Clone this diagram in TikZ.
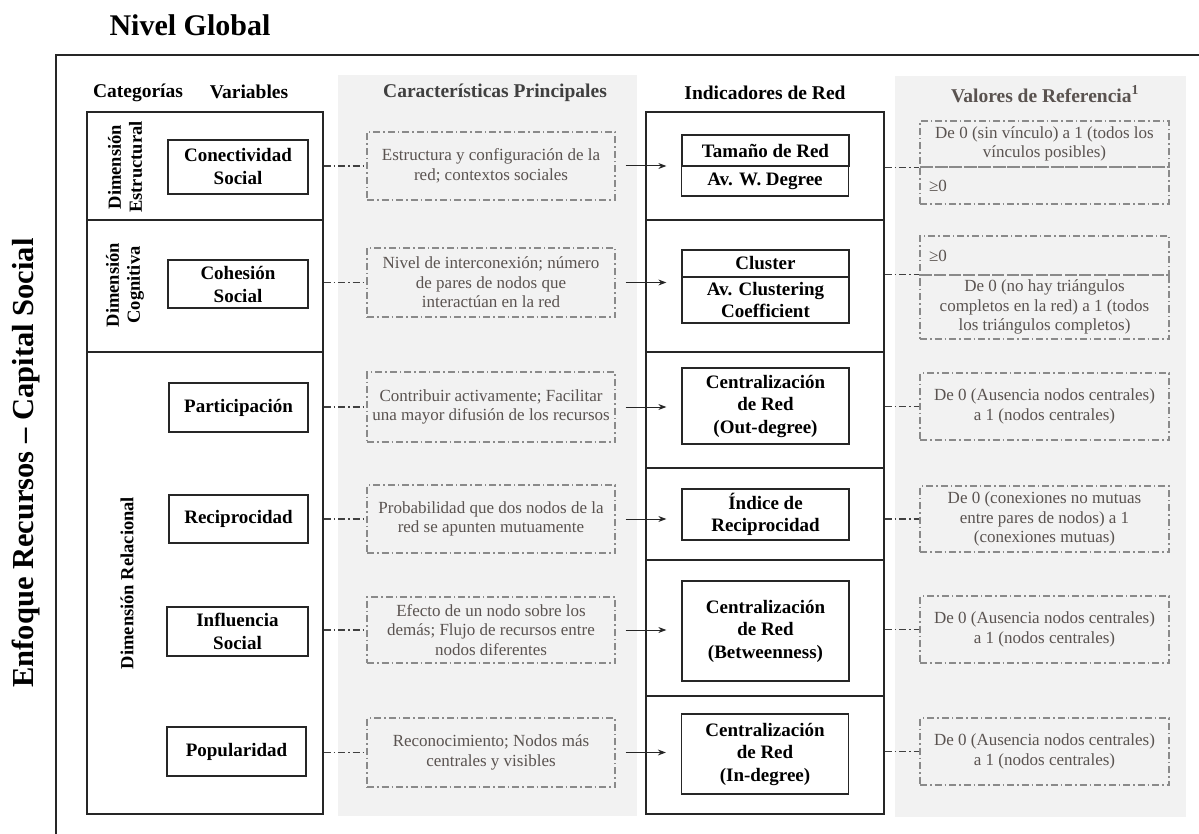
\documentclass[tikz,border=0pt]{standalone}
\usepackage{fontspec}
\setmainfont{Liberation Serif}
\usetikzlibrary{arrows.meta}

\definecolor{band}{HTML}{F2F2F2}
\definecolor{softline}{HTML}{8A8A8A}
\definecolor{softtext}{HTML}{5A5350}
\definecolor{linkcol}{HTML}{404040}

\tikzset{
  frame/.style={draw=black!85, line width=1.3pt},
  colbox/.style={draw=black!85, line width=1.4pt, inner sep=0pt},
  varbox/.style={draw=black!85, line width=1.3pt, inner sep=1pt, align=center,
    font=\bfseries\fontsize{19}{23}\selectfont},
  indbox/.style={draw=black!85, line width=1.3pt, inner sep=1pt, align=center,
    font=\bfseries\fontsize{19}{22.5}\selectfont},
  charbox/.style={draw=softline, line width=1.1pt,
    dash pattern=on 7pt off 3pt on 1.5pt off 3pt,
    inner xsep=2pt, inner ysep=1pt, align=center, text=softtext,
    font=\fontsize{17}{19.5}\selectfont},
  refbox/.style={charbox},
  head/.style={font=\bfseries\fontsize{19.5}{23}\selectfont},
  dimlabel/.style={rotate=90, align=center, font=\bfseries\fontsize{18.5}{21}\selectfont},
  link/.style={draw=linkcol, line width=1.1pt, dash pattern=on 7pt off 3pt on 1.5pt off 3pt},
  arr/.style={draw=black!85, line width=1pt, -{Stealth[length=8pt,width=6pt]}},
}

\begin{document}
\begin{tikzpicture}[x=1pt,y=-1pt]
\useasboundingbox (0,0) rectangle (1199,834);

% shaded columns
\fill[band] (338,75) rectangle (637,816);
\fill[band] (895,76) rectangle (1186,817);

% outer frame (top and left sides)
\draw[frame] (56,834) -- (56,55) -- (1199,55);

% titles
\node[font=\bfseries\fontsize{30}{34}\selectfont] (title) at (190,25) {Nivel Global};
\node[rotate=90, font=\bfseries\fontsize{30.5}{34}\selectfont] (side) at (26,463)
  {Enfoque Recursos – Capital Social};

% column headers
\node[head] (hcat) at (138,93) {Categorías};
\node[head] (hvar) at (249,92) {Variables};
\node[head, text=linkcol] (hchar) at (495,93) {Características Principales};
\node[head] (hind) at (765,93) {Indicadores de Red};
\node[head, text=softtext] (href) at (1045,94) {Valores de Referencia\textsuperscript{1}};

% categories column
\node[colbox, minimum width=236, minimum height=702] (leftcol) at (205,463) {};
\draw[black!85, line width=2.2pt] (leftcol.west |- 0,220) -- (leftcol.east |- 0,220);
\draw[black!85, line width=1.3pt] (leftcol.west |- 0,352) -- (leftcol.east |- 0,352);

\node[dimlabel] (dimE) at (125,167) {Dimensión\\Estructural};
\node[dimlabel] (dimC) at (125,285) {Dimensión\\Cognitiva};
\node[dimlabel] (dimR) at (127,583) {Dimensión Relacional};

% variables
\node[varbox, minimum width=140, minimum height=54] (v1) at (238,167) {Conectividad\\Social};
\node[varbox, minimum width=140, minimum height=48] (v2) at (238,284) {Cohesión\\Social};
\node[varbox, minimum width=139, minimum height=49] (v3) at (238.5,407.5) {Participación};
\node[varbox, minimum width=139, minimum height=48] (v4) at (238.5,519) {Reciprocidad};
\node[varbox, minimum width=141, minimum height=49] (v5) at (237.5,631.5) {Influencia\\Social};
\node[varbox, minimum width=139, minimum height=49] (v6) at (236.5,751.5) {Popularidad};

% main characteristics
\node[charbox, minimum width=248, minimum height=68] (c1) at (491,166)
  {Estructura y configuración de la\\red; contextos sociales};
\node[charbox, minimum width=248, minimum height=69] (c2) at (491,282.5)
  {Nivel de interconexión; número\\de pares de nodos que\\interactúan en la red};
\node[charbox, minimum width=248, minimum height=70] (c3) at (491,407)
  {Contribuir activamente; Facilitar\\una mayor difusión de los recursos};
\node[charbox, minimum width=248, minimum height=68] (c4) at (491,519)
  {Probabilidad que dos nodos de la\\red se apunten mutuamente};
\node[charbox, minimum width=248, minimum height=66] (c5) at (491,630)
  {Efecto de un nodo sobre los\\demás; Flujo de recursos entre\\nodos diferentes};
\node[charbox, minimum width=248, minimum height=69] (c6) at (491,752.5)
  {Reconocimiento; Nodos más\\centrales y visibles};

% network indicators column
\node[colbox, minimum width=238, minimum height=702] (indcol) at (765,463) {};
\foreach \yy in {220,352,468,560,696}
  \draw[black!85, line width=1.3pt] (indcol.west |- 0,\yy) -- (indcol.east |- 0,\yy);

\node[indbox, minimum width=167, minimum height=31] (i1a) at (765.5,150.5) {Tamaño de Red};
\node[indbox, minimum width=167, minimum height=30] (i1b) at (765,181) {Av. W. Degree};
\node[indbox, minimum width=167, minimum height=27] (i2a) at (765.5,263.5) {Cluster};
\node[indbox, minimum width=167, minimum height=46] (i2b) at (765.5,300) {Av. Clustering\\Coefficient};
\node[indbox, minimum width=167, minimum height=76] (i3) at (765.5,406) {Centralización\\de Red\\(Out-degree)};
\node[indbox, minimum width=167, minimum height=51] (i4) at (765.5,514.5) {Índice de\\Reciprocidad};
\node[indbox, minimum width=167, minimum height=100] (i5) at (765.5,631) {Centralización\\de Red\\(Betweenness)};
\node[indbox, minimum width=167, minimum height=80] (i6) at (765,754) {Centralización\\de Red\\(In-degree)};

% reference values
\node[refbox, minimum width=249, minimum height=46] (r1a) at (1044.5,144)
  {De 0 (sin vínculo) a 1 (todos los\\vínculos posibles)};
\node[refbox, minimum width=249, minimum height=37, text width=231pt, align=left] (r1b) at (1044.5,185.5) {≥0};
\node[refbox, minimum width=249, minimum height=39, text width=231pt, align=left] (r2a) at (1044.5,255.5) {≥0};
\node[refbox, minimum width=249, minimum height=64] (r2b) at (1044.5,307)
  {De 0 (no hay triángulos\\completos en la red) a 1 (todos\\los triángulos completos)};
\node[refbox, minimum width=249, minimum height=67] (r3) at (1044.5,406.5)
  {De 0 (Ausencia nodos centrales)\\a 1 (nodos centrales)};
\node[refbox, minimum width=249, minimum height=66] (r4) at (1044.5,519)
  {De 0 (conexiones no mutuas\\entre pares de nodos) a 1\\(conexiones mutuas)};
\node[refbox, minimum width=249, minimum height=67] (r5) at (1044.5,629.5)
  {De 0 (Ausencia nodos centrales)\\a 1 (nodos centrales)};
\node[refbox, minimum width=249, minimum height=67] (r6) at (1044.5,751.5)
  {De 0 (Ausencia nodos centrales)\\a 1 (nodos centrales)};

% variables -> characteristics
\foreach \c in {c1,c2,c3,c4,c5,c6}
  \draw[link] (leftcol.east |- \c.west) -- (\c.west);

% characteristics -> indicators
\draw[arr] ([xshift=10pt]c1.east) -- ([xshift=-15pt]i1a.west |- c1.east);
\draw[arr] ([xshift=10pt]c2.east) -- ([xshift=-15pt]i2a.west |- c2.east);
\draw[arr] ([xshift=10pt]c3.east) -- ([xshift=-15pt]i3.west |- c3.east);
\draw[arr] ([xshift=10pt]c4.east) -- ([xshift=-15pt]i4.west |- c4.east);
\draw[arr] ([xshift=10pt]c5.east) -- ([xshift=-15pt]i5.west |- c5.east);
\draw[arr] ([xshift=10pt]c6.east) -- ([xshift=-15pt]i6.west |- c6.east);

% indicators -> reference values
\draw[link] (indcol.east |- r1a.south west) -- (r1a.south west);
\draw[link] (indcol.east |- r2b.north west) -- (r2b.north west);
\foreach \r in {r3,r4,r5,r6}
  \draw[link] (indcol.east |- \r.west) -- (\r.west);
\end{tikzpicture}
\end{document}
